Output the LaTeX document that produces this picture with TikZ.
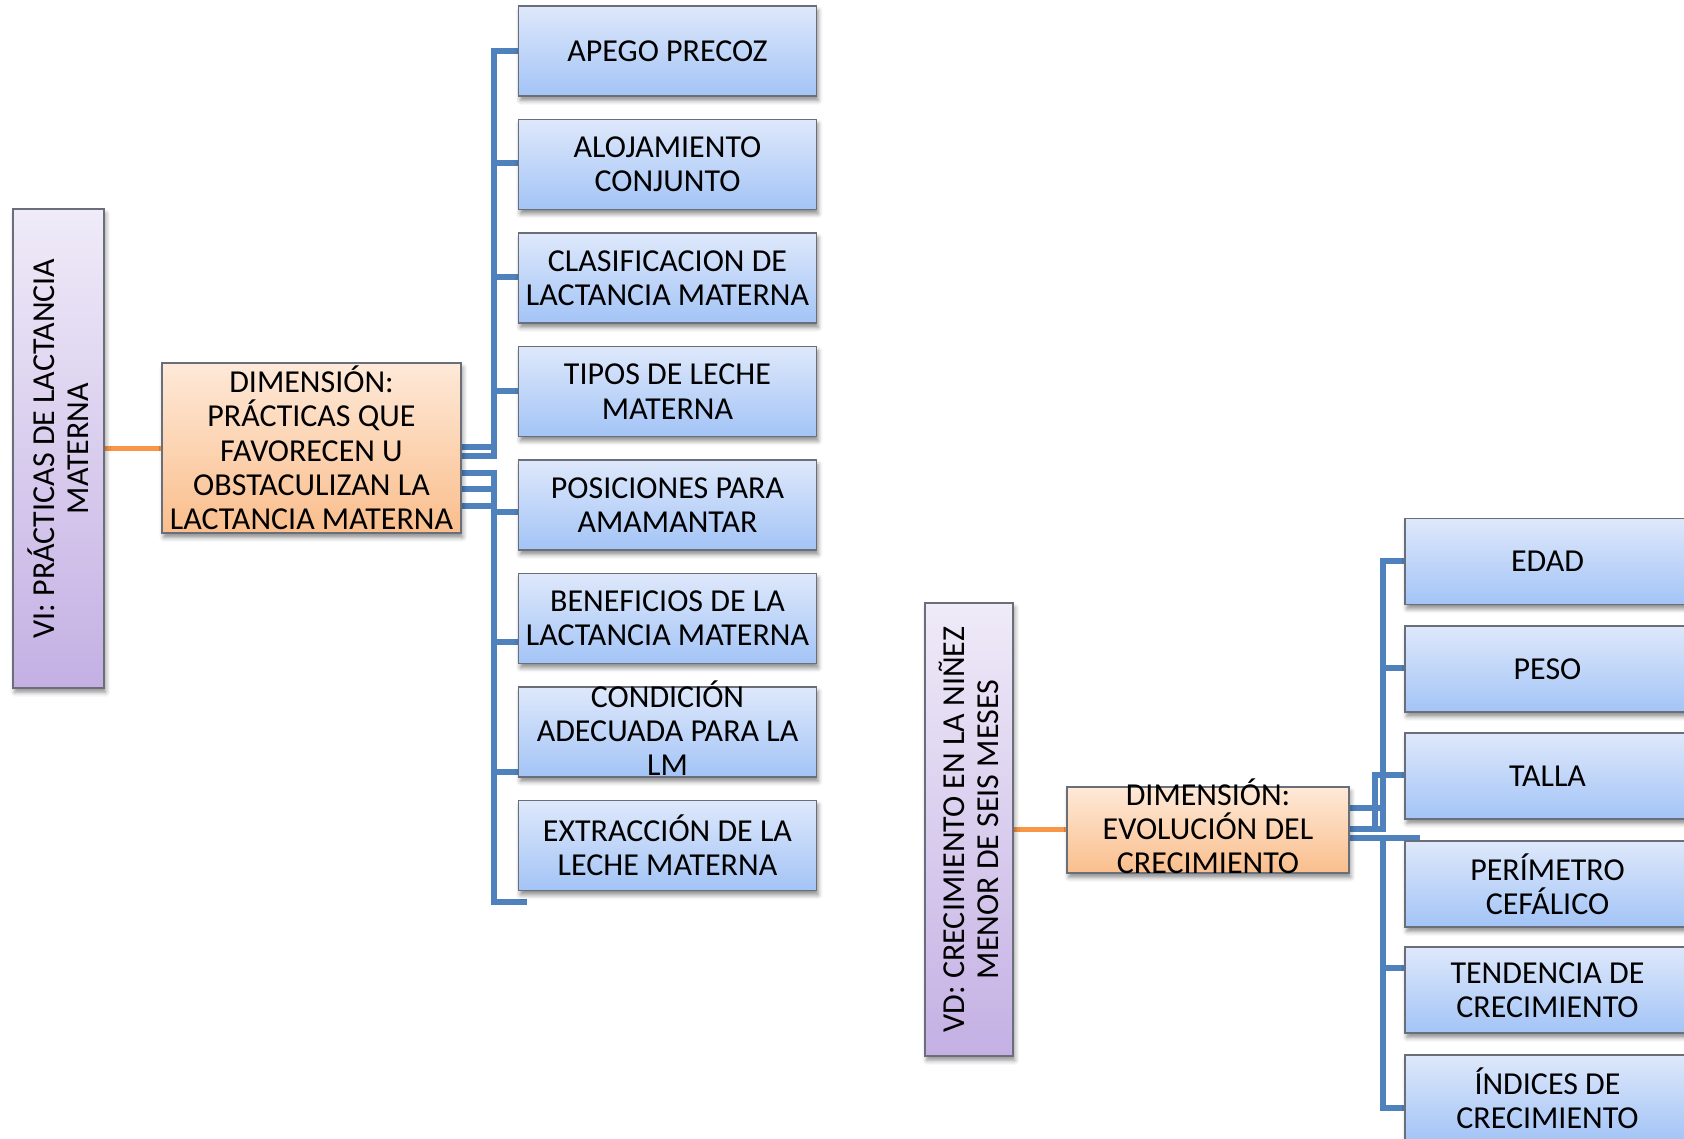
\documentclass[tikz,border=0pt]{standalone}
\usepackage{fontspec}
\setmainfont{Carlito}
\usepackage{tikz}
\usetikzlibrary{calc,backgrounds,shadows.blur}
\definecolor{leaftop}{RGB}{222,232,251}
\definecolor{leafbot}{RGB}{163,196,246}
\definecolor{dimtop}{RGB}{254,233,216}
\definecolor{dimbot}{RGB}{250,190,140}
\definecolor{vartop}{RGB}{239,235,248}
\definecolor{varbot}{RGB}{196,176,228}
\definecolor{edgegray}{RGB}{105,110,120}
\definecolor{linkblue}{RGB}{79,129,189}
\definecolor{linkorange}{RGB}{247,150,70}

\begin{document}
\begin{tikzpicture}[
  x=0.02cm,y=-0.02cm,
  every node/.style={font=\fontsize{18.2}{19.5}\selectfont,text=black,align=center},
  softshadow/.style={blur shadow={shadow xshift=1pt,shadow yshift=-2.5pt,shadow blur radius=2.5pt,shadow opacity=45}},
  leafbox/.style={draw=edgegray,line width=.8pt,top color=leaftop,bottom color=leafbot,
    minimum width=5.96cm,minimum height=1.8cm,inner sep=0pt,softshadow},
  leafboxR/.style={leafbox,minimum width=5.7cm,minimum height=1.72cm},
  dimbox/.style={draw=edgegray,line width=.8pt,top color=dimtop,bottom color=dimbot,
    inner sep=0pt,softshadow},
  varbox/.style={draw=edgegray,line width=.8pt,rotate=90,top color=vartop,bottom color=varbot,
    inner sep=0pt,softshadow},
  overtext/.style={align=center,yshift=2.2pt},
  busline/.style={line width=2.9pt,draw=linkblue},
  varline/.style={line width=2.9pt,draw=linkorange}
]

  \useasboundingbox (0,0) rectangle (1684,1139);

  \coordinate (busL)   at (494,0);
  \coordinate (busR)   at (1383,0);
  \coordinate (busRin) at (1375,0);
  \coordinate (extEnd)  at (527,902);
  \coordinate (periEnd) at (1420,838);

  % left tree
  \node[varbox,minimum width=9.58cm,minimum height=1.82cm] (vi) at (58.5,448.5)
    {VI: PRÁCTICAS DE LACTANCIA\\MATERNA};
  \node[dimbox,minimum width=5.98cm,minimum height=3.4cm] (dimL) at (311.5,448)
    {DIMENSIÓN:\\PRÁCTICAS QUE\\FAVORECEN U\\OBSTACULIZAN LA\\LACTANCIA MATERNA};

  \node[leafbox] (apego) at (667.5,51)    {APEGO PRECOZ};
  \node[leafbox] (aloj)  at (667.5,164.5) {ALOJAMIENTO\\CONJUNTO};
  \node[leafbox] (clas)  at (667.5,278)   {CLASIFICACION DE\\LACTANCIA MATERNA};
  \node[leafbox] (tipos) at (667.5,391.5) {TIPOS DE LECHE\\MATERNA};
  \node[leafbox] (posic) at (667.5,505)   {POSICIONES PARA\\AMAMANTAR};
  \node[leafbox] (benef) at (667.5,618.5) {BENEFICIOS DE LA\\LACTANCIA MATERNA};
  \node[leafbox,label={[overtext]center:CONDICIÓN\\ADECUADA PARA LA\\LM}] (cond) at (667.5,732) {};
  \node[leafbox] (extr)  at (667.5,845.5) {EXTRACCIÓN DE LA\\LECHE MATERNA};

  % right tree
  \node[varbox,minimum width=9.06cm,minimum height=1.76cm] (vd) at (969,829.5)
    {VD: CRECIMIENTO EN LA NIÑEZ\\MENOR DE SEIS MESES};
  \node[dimbox,minimum width=5.64cm,minimum height=1.72cm,
    label={[overtext]center:DIMENSIÓN:\\EVOLUCIÓN DEL\\CRECIMIENTO}] (dimR) at (1208,830) {};

  \node[leafboxR] (edad)  at (1547.5,561.5) {EDAD};
  \node[leafboxR] (peso)  at (1547.5,669)   {PESO};
  \node[leafboxR] (talla) at (1547.5,776)   {TALLA};
  \node[leafboxR] (peri)  at (1547.5,884)   {PERÍMETRO\\CEFÁLICO};
  \node[leafboxR] (tend)  at (1547.5,990)   {TENDENCIA DE\\CRECIMIENTO};
  \node[leafboxR] (indi)  at (1547.5,1098)  {ÍNDICES DE\\CRECIMIENTO};

  \begin{scope}[on background layer]
    \draw[varline] (vi.south) -- (vi.south -| dimL.west);
    \draw[varline] (vd.south) -- (vd.south -| dimR.west);

    \foreach \kid/\p/\s in {apego/447/51,aloj/447/163,clas/456/277,tipos/456/391,
                            posic/473/512,benef/489/642,cond/506/772}
      \draw[busline] (dimL.east |- 0,\p) -| (busL |- 0,\s) -- (\kid.west |- 0,\s);
    \draw[busline] (dimL.east |- 0,506) -| (busL |- 0,902) -- (extEnd);

    \draw[busline] (dimR.east |- 0,808) -| (busR |- 0,561) -- (edad.west |- 0,561);
    \draw[busline] (dimR.east |- 0,829) -| (busR |- 0,668) -- (peso.west |- 0,668);
    \draw[busline] (dimR.east |- 0,829) -| (busRin |- 0,775) -- (talla.west |- 0,775);
    \draw[busline] (dimR.east |- 0,838) -- (periEnd);
    \foreach \kid/\s in {tend/968,indi/1108}
      \draw[busline] (dimR.east |- 0,838) -| (busR |- 0,\s) -- (\kid.west |- 0,\s);
  \end{scope}

\end{tikzpicture}
\end{document}
